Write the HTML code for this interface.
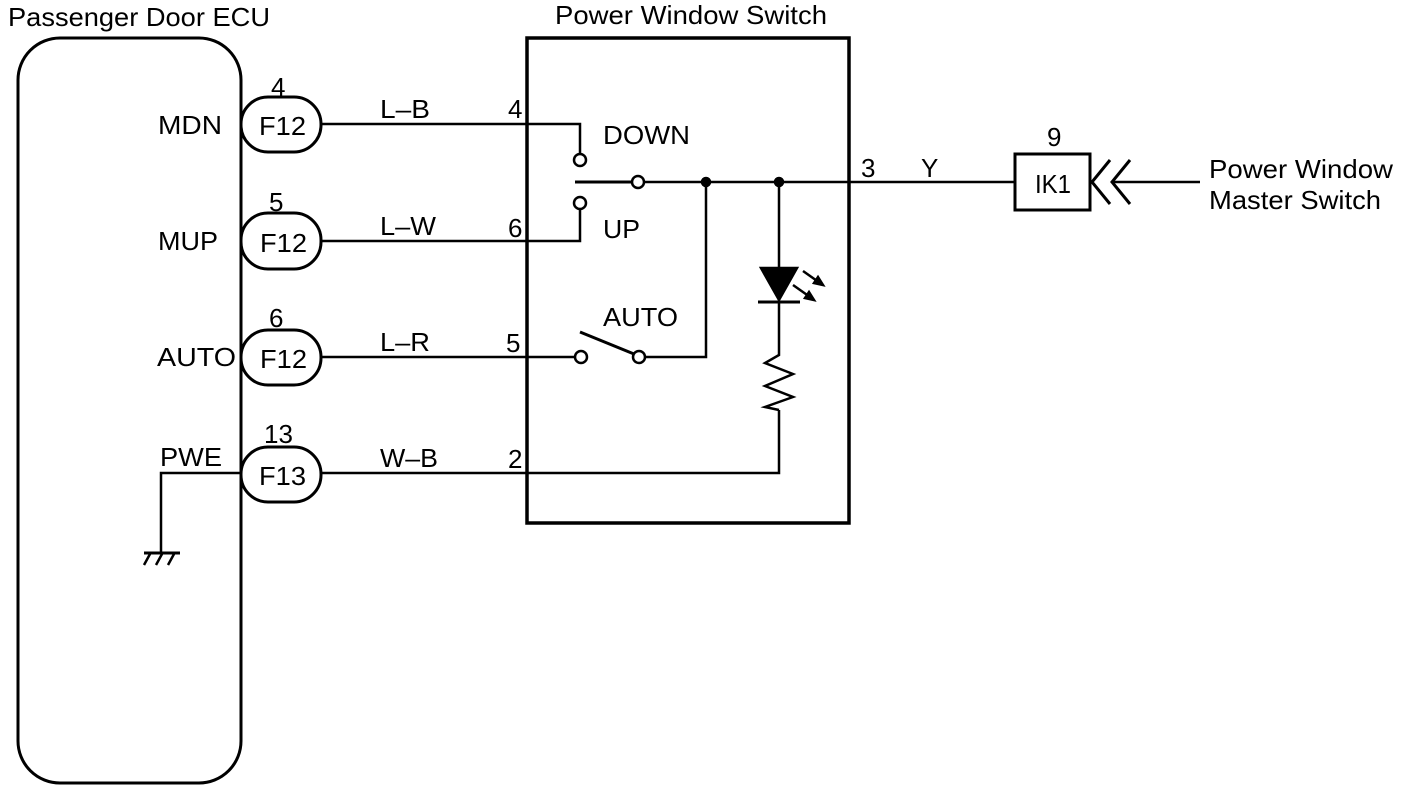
<!DOCTYPE html>
<html><head><meta charset="utf-8"><style>
html,body{margin:0;padding:0;background:#fff;}
svg{display:block;}
text{font-family:"Liberation Sans",Arial,sans-serif;font-size:26px;fill:#000;}
</style></head><body>
<svg width="1408" height="790" viewBox="0 0 1408 790" xmlns="http://www.w3.org/2000/svg">
<g fill="none" stroke="#000" stroke-width="2.5">
<rect x="18" y="38" width="223" height="745" rx="42" ry="42" stroke-width="3"/>
<rect x="527" y="38" width="322" height="485" stroke-width="3.5"/>
<rect x="241" y="97" width="80" height="55" rx="27" stroke-width="3"/>
<rect x="241" y="213" width="80" height="56" rx="27" stroke-width="3"/>
<rect x="241" y="330" width="80" height="55" rx="27" stroke-width="3"/>
<rect x="241" y="447" width="80" height="55" rx="27" stroke-width="3"/>
<polyline points="321,124 580,124 580,154"/>
<polyline points="321,241 580,241 580,209"/>
<polyline points="321,357 575,357"/>
<polyline points="321,473 779,473 779,410"/>
<circle cx="580" cy="160" r="6"/>
<circle cx="580" cy="203" r="6"/>
<line x1="575" y1="182" x2="632" y2="182" stroke-width="3"/>
<circle cx="638" cy="182" r="6"/>
<line x1="644" y1="182" x2="1015" y2="182"/>
<circle cx="706" cy="182" r="4" fill="#000"/>
<circle cx="779" cy="182" r="4" fill="#000"/>
<circle cx="581" cy="357" r="6"/>
<line x1="580" y1="332" x2="634" y2="354" stroke-width="3"/>
<circle cx="639" cy="357" r="6"/>
<polyline points="645,357 706,357 706,182"/>
<line x1="779" y1="182" x2="779" y2="268"/>
<polygon points="761,268 797,268 779,300" fill="#000"/>
<line x1="758" y1="302" x2="800" y2="302" stroke-width="3"/>
<polyline points="779,302 779,355 765,363 793,374 765,386 793,397 765,407 779,410"/>
<line x1="803" y1="271" x2="820" y2="283"/>
<polygon points="823,285 814,283 818,277" fill="#000"/>
<line x1="793" y1="285" x2="810" y2="297"/>
<polygon points="814,300 805,298 809,292" fill="#000"/>
<rect x="1015" y="154" width="75" height="56" stroke-width="3"/>
<polyline points="1110,160 1092,182 1110,204" stroke-width="3"/>
<polyline points="1130,160 1112,182 1130,204" stroke-width="3"/>
<line x1="1113" y1="182" x2="1200" y2="182"/>
<polyline points="241,473 161,473 161,553"/>
<line x1="144" y1="553" x2="180" y2="553" stroke-width="3"/>
<line x1="150" y1="554" x2="144" y2="565"/>
<line x1="162" y1="554" x2="156" y2="565"/>
<line x1="174" y1="554" x2="168" y2="565"/>
</g>
<text x="8" y="26" textLength="262" lengthAdjust="spacingAndGlyphs">Passenger Door ECU</text>
<text x="555" y="24" textLength="272" lengthAdjust="spacingAndGlyphs">Power Window Switch</text>
<text x="158" y="134" textLength="64" lengthAdjust="spacingAndGlyphs">MDN</text>
<text x="158" y="250" textLength="60" lengthAdjust="spacingAndGlyphs">MUP</text>
<text x="157" y="366" textLength="79" lengthAdjust="spacingAndGlyphs">AUTO</text>
<text x="160" y="466" textLength="62" lengthAdjust="spacingAndGlyphs">PWE</text>
<text x="271" y="96">4</text>
<text x="269" y="211">5</text>
<text x="269" y="327">6</text>
<text x="264" y="443">13</text>
<text x="259" y="135" textLength="47" lengthAdjust="spacingAndGlyphs">F12</text>
<text x="260" y="252" textLength="47" lengthAdjust="spacingAndGlyphs">F12</text>
<text x="260" y="368" textLength="47" lengthAdjust="spacingAndGlyphs">F12</text>
<text x="259" y="485" textLength="47" lengthAdjust="spacingAndGlyphs">F13</text>
<text x="380" y="118" textLength="50" lengthAdjust="spacingAndGlyphs">L–B</text>
<text x="380" y="235" textLength="56" lengthAdjust="spacingAndGlyphs">L–W</text>
<text x="380" y="351" textLength="50" lengthAdjust="spacingAndGlyphs">L–R</text>
<text x="380" y="467" textLength="58" lengthAdjust="spacingAndGlyphs">W–B</text>
<text x="508" y="118">4</text>
<text x="508" y="237">6</text>
<text x="506" y="352">5</text>
<text x="508" y="468">2</text>
<text x="603" y="144" textLength="87" lengthAdjust="spacingAndGlyphs">DOWN</text>
<text x="603" y="238" textLength="37" lengthAdjust="spacingAndGlyphs">UP</text>
<text x="603" y="326" textLength="75" lengthAdjust="spacingAndGlyphs">AUTO</text>
<text x="861" y="177">3</text>
<text x="921" y="177">Y</text>
<text x="1047" y="146">9</text>
<text x="1035" y="193" textLength="36" lengthAdjust="spacingAndGlyphs">IK1</text>
<text x="1209" y="178" textLength="184" lengthAdjust="spacingAndGlyphs">Power Window</text>
<text x="1209" y="209" textLength="172" lengthAdjust="spacingAndGlyphs">Master Switch</text>
</svg>
</body></html>
